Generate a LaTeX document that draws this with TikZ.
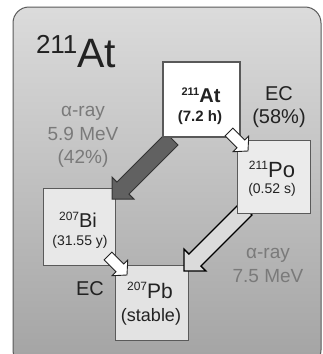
\documentclass[tikz,border=0pt]{standalone}
\usepackage{fontspec}
\setmainfont{Liberation Sans}
\usetikzlibrary{calc}
\newcommand\fsz[1]{\fontsize{#1}{#1}\selectfont}
% #1 style, #2 tail, #3 tip, #4 shaft half width, #5 head half width, #6 head length
\newcommand\blockarrow[6]{%
  \coordinate (bN) at ($(#3)!#6!(#2)$);
  \draw[#1] ($(#2)!#4!90:(#3)$) -- ($(bN)!#4!90:(#3)$) -- ($(bN)!#5!90:(#3)$) -- (#3)
    -- ($(bN)!#5!-90:(#3)$) -- ($(bN)!#4!-90:(#3)$) -- ($(#2)!#4!-90:(#3)$) -- cycle;
}
\definecolor{frame}{HTML}{5A5A5A}
\definecolor{labgray}{HTML}{7A7A7A}
\definecolor{ink}{HTML}{222222}
\begin{document}
\begin{tikzpicture}[x=1pt,y=-1pt,
  every node/.style={inner sep=0pt, outer sep=0pt, text=ink},
  box/.style={draw=frame, line width=1pt, minimum width=#1, anchor=north west},
  graylab/.style={text=labgray, anchor=base, font=\fsz{19}},
  eclab/.style={text=ink, anchor=base, font=\fsz{20}}]
\useasboundingbox (0,0) rectangle (323,354);
\clip (0,0) rectangle (323,354);
\fill[white] (0,0) rectangle (323,354);
\shade[top color=black!14, bottom color=black!36, draw=frame, line width=1pt, rounded corners=16pt]
  (13,7) rectangle (321,366);

% title
\node[anchor=base west] (title) at (36,67) {{\fsz{26}\raisebox{14pt}{211}}{\fsz{41}At}};

% boxes drawn below the arrows
\node[box=72pt, minimum height=77pt, fill=black!9] (bi) at (43,188) {};
\node[box=73pt, minimum height=75pt, fill=black!11] (pb) at (115,265) {};

% alpha decay arrows
\coordinate (a1tail) at (172,139);
\coordinate (a1tip) at (112,199);
\coordinate (a2tail) at (246,209);
\coordinate (a2tip) at (184,271);
\blockarrow{fill=black!62, draw=black!80, line width=1pt, line join=miter}{a1tail}{a1tip}{8.5pt}{15.5pt}{15.5pt}
\blockarrow{fill=black!14, draw=black, line width=1.3pt, line join=miter}{a2tail}{a2tip}{8.5pt}{15.5pt}{15.5pt}

% boxes drawn above the arrow tails
\node[box=77pt, minimum height=75pt, fill=white, line width=2.4pt, draw=black!65] (at) at (163,62) {};
\node[box=73pt, minimum height=73pt, fill=black!8] (po) at (237,140) {};

% EC arrows
\coordinate (e1tail) at (229,132);
\coordinate (e1tip) at (248,151);
\coordinate (e2tail) at (108,256);
\coordinate (e2tip) at (127,275);
\blockarrow{fill=white, draw=ink, line width=0.9pt, line join=miter}{e1tail}{e1tip}{5.5pt}{11pt}{10pt}
\blockarrow{fill=white, draw=ink, line width=0.9pt, line join=miter}{e2tail}{e2tip}{5.5pt}{11pt}{10pt}

% box texts
\node[anchor=base] (atname) at (201,102) {\bfseries{\fsz{11}\raisebox{7pt}{211}}{\fsz{20}At}};
\node[anchor=base] (athalf) at (200,121) {\bfseries\fsz{15}(7.2 h)};
\node[anchor=base] (poname) at (272,177) {{\fsz{12}\raisebox{8pt}{211}}{\fsz{22}Po}};
\node[anchor=base] (pohalf) at (272,193) {\fsz{14}(0.52 s)};
\node[anchor=base] (biname) at (78,227) {{\fsz{12}\raisebox{7pt}{207}}{\fsz{20}Bi}};
\node[anchor=base] (bihalf) at (80,245) {\fsz{14}(31.55 y)};
\node[anchor=base] (pbname) at (150,298) {{\fsz{12}\raisebox{8pt}{207}}{\fsz{21}Pb}};
\node[anchor=base] (pbhalf) at (151,321) {\fsz{18}(stable)};

% decay labels
\node[graylab] (l1a) at (83,116) {α-ray};
\node[graylab] (l1b) at (83,140) {5.9 MeV};
\node[graylab] (l1c) at (83,163) {(42\%)};
\node[eclab] (l2a) at (279,100) {EC};
\node[eclab] (l2b) at (279,123) {(58\%)};
\node[graylab] (l3a) at (268,258) {α-ray};
\node[graylab] (l3b) at (268,282) {7.5 MeV};
\node[eclab] (l4) at (90,295) {EC};
\end{tikzpicture}
\end{document}
